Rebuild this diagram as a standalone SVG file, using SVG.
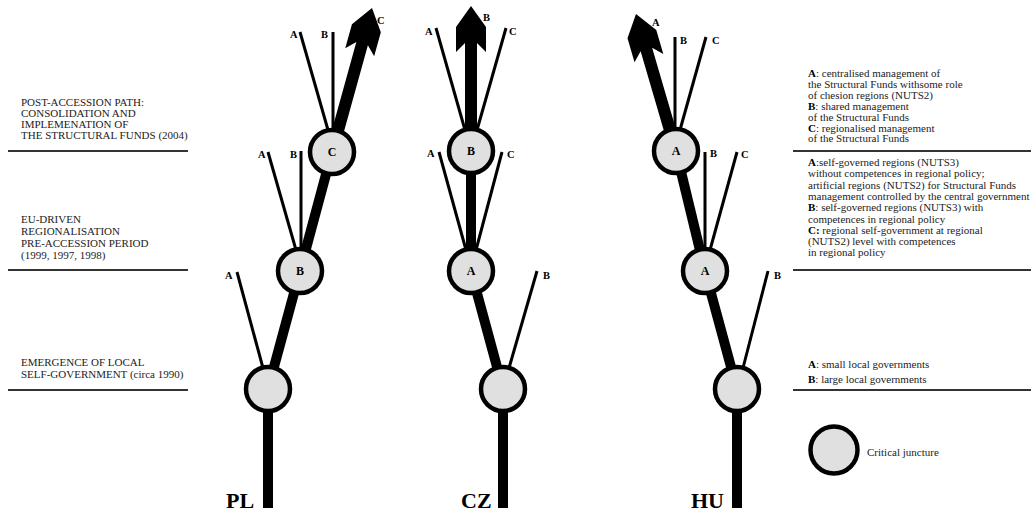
<svg xmlns="http://www.w3.org/2000/svg" width="1031" height="513" viewBox="0 0 1031 513">
  <style>
    .txt { font-family: "Liberation Serif", "Times New Roman", serif; font-size: 11px; fill: #222; }
    .b { font-weight: bold; fill: #000; }
    .branch { font-family: "Liberation Serif", "Times New Roman", serif; font-size: 10.5px; font-weight: bold; fill: #000; }
    .clabel { font-family: "Liberation Serif", "Times New Roman", serif; font-size: 12px; font-weight: bold; fill: #000; text-anchor: middle; }
    .country { font-family: "Liberation Serif", "Times New Roman", serif; font-size: 22px; font-weight: bold; fill: #000; }
    .rule { stroke: #333; stroke-width: 2; }
    .thick { stroke: #000; stroke-width: 10; fill: none; }
    .thin { stroke: #000; stroke-width: 3; fill: none; }
    .arrow { fill: #000; }
    .juncture { fill: #e0e0e0; stroke: #000; stroke-width: 4.5; }
  </style>

  <rect width="1031" height="513" fill="#fff"/>

  <!-- period dividers -->
  <g id="dividers">
    <line class="rule" x1="8" y1="151" x2="188" y2="151"/>
    <line class="rule" x1="8" y1="270" x2="188" y2="270"/>
    <line class="rule" x1="8" y1="390" x2="188" y2="390"/>
    <line class="rule" x1="793" y1="151" x2="1031" y2="151"/>
    <line class="rule" x1="793" y1="270" x2="1031" y2="270"/>
    <line class="rule" x1="793" y1="390" x2="1031" y2="390"/>
  </g>

  <!-- period titles -->
  <g id="periods" class="txt">
    <text x="21" y="106">POST-ACCESSION PATH:</text>
    <text x="21" y="117">CONSOLIDATION AND</text>
    <text x="21" y="128">IMPLEMENATION OF</text>
    <text x="21" y="139">THE STRUCTURAL FUNDS (2004)</text>
    <text x="21" y="223">EU-DRIVEN</text>
    <text x="21" y="235">REGIONALISATION</text>
    <text x="21" y="247">PRE-ACCESSION PERIOD</text>
    <text x="21" y="259">(1999, 1997, 1998)</text>
    <text x="21" y="366">EMERGENCE OF LOCAL</text>
    <text x="21" y="378">SELF-GOVERNMENT (circa 1990)</text>
  </g>

  <!-- option descriptions -->
  <g id="options" class="txt">
    <text x="808" y="77"><tspan class="b">A</tspan>: centralised management of</text>
    <text x="808" y="88">the Structural Funds withsome role</text>
    <text x="808" y="99">of chesion regions (NUTS2)</text>
    <text x="808" y="110"><tspan class="b">B</tspan>: shared management</text>
    <text x="808" y="121">of the Structural Funds</text>
    <text x="808" y="131.5"><tspan class="b">C</tspan>: regionalised management</text>
    <text x="808" y="142">of the Structural Funds</text>

    <text x="808" y="166"><tspan class="b">A</tspan>:self-governed regions (NUTS3)</text>
    <text x="808" y="177.3">without competences in regional policy;</text>
    <text x="808" y="188.6">artificial regions (NUTS2) for Structural Funds</text>
    <text x="808" y="199.9">management controlled by the central government</text>
    <text x="808" y="211.2"><tspan class="b">B</tspan>: self-governed regions (NUTS3) with</text>
    <text x="808" y="222.5">competences in regional policy</text>
    <text x="808" y="233.8"><tspan class="b">C:</tspan> regional self-government at regional</text>
    <text x="808" y="245.1">(NUTS2) level with competences</text>
    <text x="808" y="256.4">in regional policy</text>

    <text x="808" y="368"><tspan class="b">A</tspan>: small local governments</text>
    <text x="808" y="382.5"><tspan class="b">B</tspan>: large local governments</text>
  </g>

  <!-- paths between junctures -->
  <g id="connectors">
    <!-- PL -->
    <line class="thick" x1="268" y1="508" x2="268" y2="389"/>
    <line class="thick" x1="268" y1="389" x2="300" y2="271"/>
    <line class="thin" x1="263" y1="368" x2="237" y2="272"/>
    <line class="thick" x1="300" y1="271" x2="332" y2="152"/>
    <line class="thin" x1="296" y1="250" x2="268" y2="152"/>
    <line class="thin" x1="301" y1="250" x2="301" y2="151"/>
    <line class="thin" x1="328" y1="130" x2="300" y2="32"/>
    <line class="thin" x1="333" y1="130" x2="333" y2="32"/>
    <path class="arrow" transform="translate(372,8) rotate(15.5)" d="M0,0 L15,21 L15,46 L6,37 L6,150 L-6,150 L-6,37 L-15,46 L-15,21 Z"/>

    <!-- CZ -->
    <line class="thick" x1="503" y1="508" x2="503" y2="389"/>
    <line class="thick" x1="503" y1="389" x2="471" y2="271"/>
    <line class="thin" x1="509" y1="368" x2="537" y2="271"/>
    <line class="thick" x1="471" y1="271" x2="471" y2="151"/>
    <line class="thin" x1="466" y1="250" x2="439" y2="152"/>
    <line class="thin" x1="476" y1="250" x2="502" y2="152"/>
    <line class="thin" x1="465" y1="130" x2="436" y2="28"/>
    <line class="thin" x1="477" y1="130" x2="506" y2="28"/>
    <path class="arrow" transform="translate(471,6)" d="M0,0 L15,21 L15,46 L6,37 L6,145 L-6,145 L-6,37 L-15,46 L-15,21 Z"/>

    <!-- HU -->
    <line class="thick" x1="737" y1="508" x2="737" y2="389"/>
    <line class="thick" x1="737" y1="389" x2="705" y2="271"/>
    <line class="thin" x1="743" y1="368" x2="768" y2="271"/>
    <line class="thick" x1="705" y1="271" x2="676" y2="151"/>
    <line class="thin" x1="705" y1="250" x2="705" y2="152"/>
    <line class="thin" x1="710" y1="250" x2="737" y2="152"/>
    <line class="thin" x1="675" y1="130" x2="675" y2="37"/>
    <line class="thin" x1="680" y1="130" x2="706" y2="37"/>
    <path class="arrow" transform="translate(636,14) rotate(-16.3)" d="M0,0 L15,21 L15,46 L6,37 L6,143 L-6,143 L-6,37 L-15,46 L-15,21 Z"/>
  </g>

  <!-- branch option labels -->
  <g id="branch-labels" class="branch">
    <text x="225" y="279">A</text>
    <text x="258" y="158">A</text>
    <text x="290" y="158">B</text>
    <text x="290" y="38">A</text>
    <text x="321" y="38">B</text>
    <text x="377" y="24">C</text>

    <text x="543" y="279">B</text>
    <text x="427" y="157">A</text>
    <text x="507" y="158">C</text>
    <text x="425" y="35">A</text>
    <text x="509" y="35">C</text>
    <text x="483" y="21">B</text>

    <text x="774" y="279">B</text>
    <text x="710" y="157">B</text>
    <text x="741" y="158">C</text>
    <text x="680" y="44">B</text>
    <text x="712" y="44">C</text>
    <text x="652" y="26">A</text>
  </g>

  <!-- PL junctures -->
  <g id="pl-1990"><circle class="juncture" cx="268" cy="389" r="22"/></g>
  <g id="pl-pre"><circle class="juncture" cx="300" cy="271" r="22"/><text class="clabel" x="300" y="275">B</text></g>
  <g id="pl-post"><circle class="juncture" cx="332" cy="152" r="22"/><text class="clabel" x="332" y="156">C</text></g>

  <!-- CZ junctures -->
  <g id="cz-1990"><circle class="juncture" cx="503" cy="389" r="22"/></g>
  <g id="cz-pre"><circle class="juncture" cx="471" cy="271" r="22"/><text class="clabel" x="471" y="275">A</text></g>
  <g id="cz-post"><circle class="juncture" cx="471" cy="151" r="22"/><text class="clabel" x="471" y="155">B</text></g>

  <!-- HU junctures -->
  <g id="hu-1990"><circle class="juncture" cx="737" cy="389" r="22"/></g>
  <g id="hu-pre"><circle class="juncture" cx="705" cy="271" r="22"/><text class="clabel" x="705" y="275">A</text></g>
  <g id="hu-post"><circle class="juncture" cx="676" cy="151" r="22"/><text class="clabel" x="676" y="155">A</text></g>

  <!-- country names -->
  <g id="countries" class="country">
    <text x="226" y="508">PL</text>
    <text x="461" y="508">CZ</text>
    <text x="691" y="508">HU</text>
  </g>

  <!-- legend -->
  <g id="legend">
    <circle class="juncture" cx="834" cy="450" r="23.5"/>
    <text class="txt" x="867" y="456">Critical juncture</text>
  </g>
</svg>
